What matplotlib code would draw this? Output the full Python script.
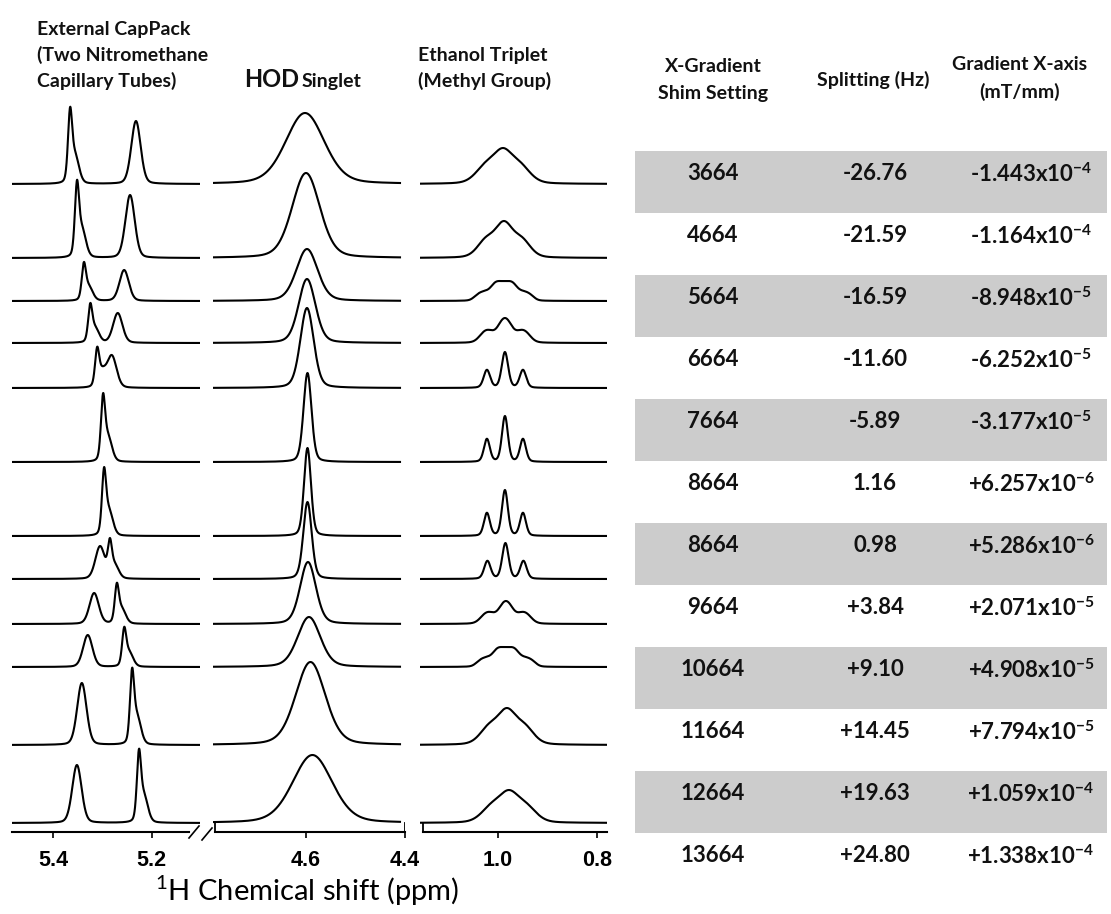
import numpy as np
import matplotlib
matplotlib.use('Agg')
import matplotlib.pyplot as plt
from matplotlib.patches import Rectangle
from matplotlib.lines import Line2D

plt.rcParams['mathtext.fontset'] = 'custom'
plt.rcParams['mathtext.rm'] = 'Lato'
plt.rcParams['mathtext.bf'] = 'Lato:bold'
plt.rcParams['mathtext.it'] = 'Lato:italic'

# ---------------- data ----------------
# table
shim_setting = ['3664', '4664', '5664', '6664', '7664', '8664',
                '8664', '9664', '10664', '11664', '12664', '13664']
splitting_hz = ['-26.76', '-21.59', '-16.59', '-11.60', '-5.89', '1.16',
                '0.98', '+3.84', '+9.10', '+14.45', '+19.63', '+24.80']
grad_mantissa = ['-1.443', '-1.164', '-8.948', '-6.252', '-3.177', '+6.257',
                 '+5.286', '+2.071', '+4.908', '+7.794', '+1.059', '+1.338']
grad_exponent = [-4, -4, -5, -5, -5, -6, -6, -5, -5, -5, -4, -4]

# CapPack: sharp capillary line and rounded capillary line (ppm, height)
cap_sharp_ppm = [5.366, 5.352, 5.338, 5.325, 5.311, 5.299,
                 5.297, 5.285, 5.271, 5.256, 5.240, 5.226]
cap_sharp_h = [77, 78, 39, 40, 41, 69, 69, 41, 41, 40, 77, 74]
cap_round_ppm = [5.232, 5.244, 5.256, 5.269, 5.281, None,
                 None, 5.305, 5.317, 5.330, 5.342, 5.352]
cap_round_h = [63, 63, 31, 30, 33, 0, 0, 33, 31, 32, 62, 58]

# HOD singlet (ppm, height, line width sigma in ppm)
hod_ppm = [4.602, 4.600, 4.598, 4.598, 4.598, 4.597,
           4.597, 4.597, 4.596, 4.594, 4.591, 4.587]
hod_h = [71, 85, 52, 64, 80, 89, 88, 77, 62, 50, 83, 68]
hod_sigma = [0.039, 0.028, 0.0215, 0.017, 0.0135, 0.008,
             0.007, 0.0085, 0.016, 0.023, 0.030, 0.040]

# Ethanol CH3 triplet (centre ppm, height, gradient half-width, sigma)
eth_ppm = [0.990, 0.988, 0.988, 0.986, 0.986, 0.986,
           0.986, 0.985, 0.984, 0.984, 0.982, 0.978]
eth_h = [36, 37, 20, 25, 36, 46, 46, 36, 23, 20, 37, 33]
eth_R = [0.000, 0.008, 0.026, 0.016, 0.000, 0.000,
         0.000, 0.000, 0.016, 0.026, 0.008, 0.006]
eth_sigma = [0.020, 0.017, 0.007, 0.0095, 0.0065, 0.006,
             0.006, 0.0065, 0.0095, 0.007, 0.018, 0.020]
eth_J = 0.0364

# vertical stacking of the 12 spectra (height of baseline above axis)
stack_offset = [648, 574, 531, 489, 444, 370, 296, 253, 208, 165, 87, 9]

# ---------------- helpers ----------------
W, H = 1111, 914
fig = plt.figure(figsize=(W / 100, H / 100), dpi=100)
fig.patch.set_facecolor('white')


def px_axes(l, t, r, b):
    return fig.add_axes([l / W, 1 - b / H, (r - l) / W, (b - t) / H])


def line_shape(x, c, R, s, eta=0.25):
    """gradient (semicircle) distribution of pseudo-Voigt lines"""
    if R <= 0:
        u = np.array([0.0]); w = np.array([1.0])
    else:
        u = np.linspace(-R, R, 61)
        w = np.sqrt(np.clip(1 - (u / R) ** 2, 0, None))
    d = x[:, None] - c - u[None, :]
    base = (1 - eta) * np.exp(-0.5 * (d / s) ** 2) + eta / (1 + (d / (1.2 * s)) ** 2)
    return (w[None, :] * base).sum(1) / w.sum()


LW = 1.5
ymax = 742  # axes height in px -> ylim


def setup_axis(ax, xl, xr, ticks, bounds):
    ax.set_xlim(xl, xr)
    ax.set_ylim(0, ymax)
    for s in ['top', 'left', 'right']:
        ax.spines[s].set_visible(False)
    ax.spines['bottom'].set_bounds(*bounds)
    ax.spines['bottom'].set_linewidth(1.5)
    ax.set_yticks([])
    ax.set_xticks(ticks)
    ax.set_xticklabels(['%.1f' % t for t in ticks])
    ax.tick_params(axis='x', direction='out', length=4, width=1.2, pad=9)
    for lab in ax.get_xticklabels():
        lab.set_fontfamily('Liberation Sans')
        lab.set_fontweight('bold')
        lab.set_fontsize(15.5)
    ax.patch.set_alpha(0)


# ---------------- panel 1: CapPack ----------------
ax1 = px_axes(12, 90, 200, 832)
x1l, x1r = 5.4 + 41.3 / 492, 5.2 - 48.3 / 492
setup_axis(ax1, x1l, x1r, [5.4, 5.2], (x1l, 5.2 - 37 / 492))
x1 = np.linspace(x1l, x1r, 1500)
for i in range(12):
    ps = cap_sharp_ppm[i]
    fs = 0.75 * line_shape(x1, ps, 0, 0.0042, 0.3) + \
        0.32 * line_shape(x1, ps - 0.010, 0, 0.008, 0.2)
    fs = fs / fs.max()
    if cap_round_ppm[i] is None:
        y = cap_sharp_h[i] * fs
    else:
        pr = cap_round_ppm[i]
        fr = line_shape(x1, pr, 0, 0.0095, 0.2)
        fr = fr / fr.max()
        js, jr = np.argmin(abs(x1 - ps)), np.argmin(abs(x1 - pr))
        M = np.array([[fs[js], fr[js]], [fs[jr], fr[jr]]])
        a = np.linalg.solve(M, [cap_sharp_h[i], cap_round_h[i]])
        y = a[0] * fs + a[1] * fr
    ax1.plot(x1, y + stack_offset[i], color='black', lw=LW)

# ---------------- panel 2: HOD ----------------
ax2 = px_axes(213, 90, 405, 832)
x2l, x2r = 4.6 + 93 / 495, 4.4
setup_axis(ax2, x2l, x2r, [4.6, 4.4], (4.6 + 91 / 495, 4.4))
x2 = np.linspace(x2l, 4.6 - 94 / 495, 1200)
for i in range(12):
    f = line_shape(x2, hod_ppm[i], 0, hod_sigma[i], 0.25)
    ax2.plot(x2, hod_h[i] * f / f.max() + stack_offset[i], color='black', lw=LW)
ax2.plot([4.6 + 91 / 495] * 2, [0, stack_offset[-1]], color='black', lw=1.3)
ax2.plot([4.4] * 2, [0, stack_offset[-1]], color='black', lw=1.3)

# ---------------- panel 3: Ethanol ----------------
ax3 = px_axes(420, 90, 607, 832)
x3l, x3r = 1.0 + 78 / 495, 0.8 - 10 / 495
setup_axis(ax3, x3l, x3r, [1.0, 0.8], (1.0 + 75 / 495, x3r))
x3 = np.linspace(x3l, x3r, 1200)
for i in range(12):
    c = eth_ppm[i]
    f = (line_shape(x3, c - eth_J, eth_R[i], eth_sigma[i]) +
         2 * line_shape(x3, c, eth_R[i], eth_sigma[i]) +
         line_shape(x3, c + eth_J, eth_R[i], eth_sigma[i]))
    ax3.plot(x3, eth_h[i] * f / f.max() + stack_offset[i], color='black', lw=LW)
ax3.plot([1.0 + 75 / 495] * 2, [0, stack_offset[-1]], color='black', lw=1.3)

# axis break marks
for (xa, ya, xb, yb) in [(189, 838, 199, 826), (202, 840, 212, 828)]:
    fig.add_artist(Line2D([xa / W, xb / W], [1 - ya / H, 1 - yb / H],
                          transform=fig.transFigure, color='black', lw=1.2))

# ---------------- text: headers ----------------
hdr = dict(family=['Lato', 'DejaVu Sans'], fontweight='bold', fontsize=14,
           color='#111111', va='center', ha='left')
fig.text(37 / W, 1 - 30 / H, 'External CapPack', **hdr)
fig.text(37 / W, 1 - 55 / H, '(Two Nitromethane', **hdr)
fig.text(37 / W, 1 - 81 / H, 'Capillary Tubes)', **hdr)
fig.text(244 / W, 1 - 87 / H, 'HOD', ha='left', va='baseline', color='#111111',
         family=['Lato', 'DejaVu Sans'], fontweight='bold', fontsize=17)
fig.text(302 / W, 1 - 87 / H, 'Singlet', ha='left', va='baseline',
         family=['Lato', 'DejaVu Sans'], fontweight='bold', fontsize=14,
         color='#111111')
fig.text(418 / W, 1 - 55 / H, 'Ethanol Triplet', **hdr)
fig.text(418 / W, 1 - 81 / H, '(Methyl Group)', **hdr)

fig.text(307 / W, 1 - 891 / H, '$^1$H Chemical shift (ppm)', ha='center',
         va='center', family=['Lato', 'DejaVu Sans'], fontsize=21)

# ---------------- table ----------------
axt = px_axes(635, 151, 1107, 895)
axt.set_xlim(0, 1)
axt.set_ylim(12, 0)
axt.axis('off')
col_x = [(713 - 635) / 472, (875 - 635) / 472, (1031 - 635) / 472]
for i in range(12):
    if i % 2 == 0:
        axt.add_patch(Rectangle((0, i), 1, 1, facecolor='#cccccc',
                                edgecolor='none'))
    yy = i + 0.5 - 0.13
    tk = dict(ha='center', va='center', fontsize=16, fontweight='bold',
              family=['Lato', 'DejaVu Sans'], color='#111111')
    axt.text(col_x[0], yy, shim_setting[i], **tk)
    axt.text(col_x[1], yy, splitting_hz[i], **tk)
    axt.text(col_x[2], yy, r'%sx10$^{\mathbf{%d}}$' % (grad_mantissa[i], grad_exponent[i]),
             **tk)

th = dict(ha='center', va='center', fontsize=14, fontweight='bold',
          family=['Lato', 'DejaVu Sans'], color='#111111')
fig.text(713 / W, 1 - 67 / H, 'X-Gradient', **th)
fig.text(713 / W, 1 - 93 / H, 'Shim Setting', **th)
fig.text(873 / W, 1 - 80 / H, 'Splitting (Hz)', **th)
fig.text(1020 / W, 1 - 65 / H, 'Gradient X-axis', **th)
fig.text(1020 / W, 1 - 92 / H, '(mT/mm)', **th)

fig.savefig('out.png', dpi=100, facecolor='white')
